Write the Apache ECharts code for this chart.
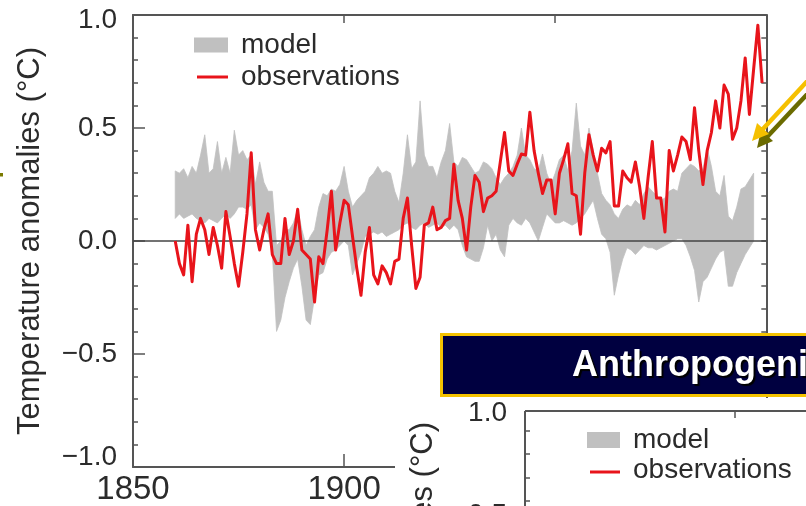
<!DOCTYPE html>
<html>
<head>
<meta charset="utf-8">
<script src="https://cdn.jsdelivr.net/npm/echarts@6/dist/echarts.min.js"></script>
<style>
html,body{margin:0;padding:0;background:#fff;overflow:hidden;}
#chart{width:806px;height:506px;}
</style>
</head>
<body>
<div id="chart"></div>
<script>
// ---------- data ----------
const obsStartYear = 1860;
const obsValues = [
  0.00,-0.10,-0.15,0.07,-0.18,0.03,0.10,0.05,-0.06,0.06,   // 1860-1869
  -0.02,-0.12,0.13,0.02,-0.10,-0.20,-0.05,0.12,0.39,0.05,  // 1870-1879
  -0.04,0.05,0.12,-0.06,-0.10,-0.10,0.10,-0.06,0.00,0.14,  // 1880-1889
  -0.04,-0.06,-0.08,-0.27,-0.07,-0.10,0.05,0.22,-0.04,0.08,// 1890-1899
  0.18,0.16,0.02,-0.12,-0.24,-0.05,0.06,-0.15,-0.19,-0.11, // 1900-1909
  -0.14,-0.19,-0.09,-0.08,0.10,0.19,-0.02,-0.21,-0.16,0.07,// 1910-1919
  0.08,0.15,0.05,0.06,0.09,0.10,0.34,0.18,0.10,-0.04,      // 1920-1929
  0.15,0.29,0.26,0.13,0.19,0.20,0.22,0.35,0.48,0.31,       // 1930-1939
  0.29,0.34,0.385,0.38,0.57,0.40,0.30,0.21,0.27,0.27,      // 1940-1949
  0.12,0.30,0.36,0.43,0.21,0.20,0.03,0.30,0.47,0.38,       // 1950-1959
  0.31,0.41,0.39,0.44,0.155,0.155,0.31,0.28,0.26,0.35,     // 1960-1969
  0.24,0.10,0.28,0.44,0.19,0.19,0.04,0.40,0.31,0.38,       // 1970-1979
  0.46,0.44,0.36,0.59,0.40,0.25,0.40,0.48,0.62,0.50,       // 1980-1989
  0.69,0.65,0.45,0.50,0.62,0.81,0.56,0.76,0.955,0.70       // 1990-1999
];
const modelStartYear = 1860;
const modelUpper = [
  0.31,0.30,0.32,0.28,0.33,0.30,0.38,0.47,0.30,0.32,
  0.44,0.30,0.37,0.30,0.49,0.38,0.40,0.36,0.38,0.25,
  0.35,0.26,0.22,0.22,-0.02,0.00,0.05,0.05,0.08,0.14,
  0.05,-0.02,0.02,0.05,0.15,0.21,0.20,0.23,0.22,0.25,
  0.33,0.22,0.15,0.18,0.20,0.22,0.28,0.30,0.33,0.30,
  0.31,0.30,0.22,0.17,0.30,0.47,0.32,0.35,0.62,0.38,
  0.33,0.33,0.28,0.35,0.40,0.52,0.35,0.33,0.37,0.36,
  0.33,0.30,0.31,0.35,0.34,0.32,0.28,0.25,0.28,0.30,
  0.33,0.38,0.50,0.38,0.36,0.32,0.31,0.385,0.30,0.25,
  0.30,0.36,0.38,0.31,0.40,0.61,0.42,0.38,0.50,0.40,
  0.30,0.21,0.18,0.16,0.12,0.10,0.14,0.16,0.15,0.18,
  0.16,0.21,0.24,0.22,0.20,0.18,0.19,0.22,0.23,0.22,
  0.30,0.32,0.34,0.33,0.31,0.32,0.41,0.33,0.22,0.20,
  0.29,0.11,0.09,0.15,0.23,0.24,0.27,0.30
];
const modelLower = [
  0.10,0.12,0.10,0.11,0.12,0.10,0.09,0.08,0.10,0.09,
  0.08,0.10,0.12,0.10,0.12,0.15,0.15,0.14,0.16,0.05,
  0.08,0.06,0.03,-0.05,-0.40,-0.35,-0.25,-0.18,-0.12,-0.08,
  -0.20,-0.35,-0.37,-0.25,-0.15,-0.14,-0.08,-0.05,-0.04,-0.02,
  0.00,-0.02,-0.15,-0.10,-0.05,0.02,0.03,0.04,0.03,0.04,
  0.02,0.03,0.04,0.05,0.07,0.08,0.06,0.05,0.07,0.08,
  0.06,0.07,0.08,0.06,0.07,0.05,0.07,0.05,-0.02,-0.07,
  -0.08,-0.09,-0.09,-0.03,0.07,0.00,0.03,-0.04,-0.07,0.07,
  0.10,0.08,0.07,0.10,0.08,0.04,0.00,0.06,0.12,0.10,
  0.08,0.08,0.09,0.08,0.07,0.08,0.10,0.12,0.15,0.18,
  0.10,0.03,0.01,-0.05,-0.24,-0.15,-0.08,-0.03,-0.04,-0.06,
  -0.04,-0.02,-0.03,-0.03,-0.04,-0.03,-0.02,-0.01,0.00,0.01,
  0.01,-0.02,-0.07,-0.13,-0.27,-0.18,-0.16,-0.12,-0.08,-0.05,
  -0.04,-0.20,-0.20,-0.14,-0.10,-0.06,-0.03,0.00
];
const xTickValues = [1850, 1900, 1950, 2000];
const xTickLabels = ['1850', '1900', '1950', '2000'];
const yTickValues = [-1.0, -0.5, 0.0, 0.5, 1.0];
const yTickLabels = ['\u22121.0', '\u22120.5', '0.0', '0.5', '1.0'];
const legendNames = ['model', 'observations'];
const yTitle = 'Temperature anomalies (\u00B0C)';
const bannerText = 'Anthropogenic';

// ---------- build ----------
const obsData = obsValues.map((v, i) => [obsStartYear + i, v]);
const modelYears = modelUpper.map((_, i) => modelStartYear + i);

const FONT = "'Liberation Sans', Arial, Helvetica, sans-serif";
const AX = '#555555';
const RED = '#e8141b';
const GREY = '#c0c0c0';
const TXT = '#2b2b2b';

function lbl(values, labels) {
  return function (v) {
    for (let i = 0; i < values.length; i++) if (Math.abs(values[i] - v) < 1e-6) return labels[i];
    return '';
  };
}
function yLbl(v) {
  const t = lbl(yTickValues, yTickLabels)(v);
  if (Math.abs(v - 1) < 1e-6) return '{top|' + t + '}';
  if (Math.abs(v + 1) < 1e-6) return '{bot|' + t + '}';
  return '{mid|' + t + '}';
}

const chart = echarts.init(document.getElementById('chart'), null, {renderer: 'canvas', width: 806, height: 506});

const axisLineStyle = {show: true, onZero: false, lineStyle: {color: AX, width: 2}};
const yRichBase = {fontSize: 28, color: TXT, fontFamily: FONT};

const option = {
  animation: false,
  backgroundColor: '#ffffff',
  grid: {left: 133, top: 15, width: 637, height: 452, containLabel: false},
  legend: [
    {
      data: [{name: legendNames[0], icon: 'rect'}],
      left: 194, top: 30, padding: 0, itemWidth: 34, itemHeight: 15,
      textStyle: {fontSize: 28, fontFamily: FONT, color: TXT, lineHeight: 30, padding: [0, 0, 0, 8]},
      selectedMode: false
    },
    {
      data: [{name: legendNames[1], icon: 'rect'}],
      left: 197, top: 62, padding: 0, itemWidth: 31, itemHeight: 3,
      textStyle: {fontSize: 28, fontFamily: FONT, color: TXT, lineHeight: 30, padding: [0, 0, 0, 8]},
      selectedMode: false
    }
  ],
  xAxis: [
    {
      type: 'value', position: 'bottom', min: 1850, max: 2000, interval: 50,
      axisLine: axisLineStyle,
      axisTick: {show: true, inside: true, length: 13, lineStyle: {color: AX, width: 1.5}},
      axisLabel: {show: true, margin: 6, fontSize: 33, color: TXT, fontFamily: FONT,
        formatter: lbl(xTickValues, xTickLabels)},
      splitLine: {show: false}
    },
    {
      type: 'value', position: 'top', min: 1850, max: 2000, interval: 50,
      axisLine: axisLineStyle,
      axisTick: {show: true, inside: true, length: 8, lineStyle: {color: AX, width: 1.5}},
      axisLabel: {show: false}, splitLine: {show: false}
    }
  ],
  yAxis: [
    {
      type: 'value', position: 'left', min: -1, max: 1, interval: 0.5,
      name: yTitle, nameLocation: 'middle', nameRotate: 90, nameGap: 87,
      nameTextStyle: {fontSize: 31, fontFamily: FONT, color: TXT},
      axisLine: axisLineStyle,
      axisTick: {show: true, inside: true, length: 12, lineStyle: {color: AX, width: 1.5}},
      minorTick: {show: true, splitNumber: 5, length: 5, lineStyle: {color: AX, width: 1.5}},
      axisLabel: {show: true, margin: 16, fontSize: 28, color: TXT, fontFamily: FONT,
        formatter: yLbl,
        rich: {
          top: Object.assign({padding: [10, 0, 0, 0]}, yRichBase),
          mid: Object.assign({}, yRichBase),
          bot: Object.assign({padding: [0, 0, 20, 0]}, yRichBase)
        }},
      splitLine: {show: false}
    },
    {
      type: 'value', position: 'right', min: -1, max: 1, interval: 0.5,
      axisLine: axisLineStyle,
      axisTick: {show: true, inside: true, length: 5, lineStyle: {color: AX, width: 1.5}},
      minorTick: {show: true, splitNumber: 5, length: 5, lineStyle: {color: AX, width: 1.5}},
      axisLabel: {show: false}, splitLine: {show: false}
    }
  ],
  series: [
    {
      type: 'custom', name: legendNames[0], xAxisIndex: 0, yAxisIndex: 0,
      itemStyle: {color: GREY}, z: 1, silent: true,
      data: [[modelStartYear, modelUpper[0]]],
      renderItem: function (params, api) {
        const pts = [];
        for (let i = 0; i < modelYears.length; i++) pts.push(api.coord([modelYears[i], modelUpper[i]]));
        for (let i = modelYears.length - 1; i >= 0; i--) pts.push(api.coord([modelYears[i], modelLower[i]]));
        return {type: 'polygon', shape: {points: pts}, style: {fill: GREY, stroke: GREY, lineWidth: 0.8}};
      }
    },
    {
      type: 'line', name: legendNames[1], xAxisIndex: 0, yAxisIndex: 0,
      data: obsData, showSymbol: false, symbol: 'none', z: 3, silent: true,
      itemStyle: {color: RED},
      lineStyle: {color: RED, width: 3, join: 'round'},
      markLine: {
        silent: true, symbol: 'none', z: 2,
        label: {show: false},
        lineStyle: {color: '#444444', width: 1.6, type: 'solid'},
        data: [{yAxis: 0}]
      }
    }
  ],
  graphic: [
    // cover of the lower slide area (second figure)
    {type: 'rect', z: 100, shape: {x: 395, y: 398, width: 420, height: 120}, style: {fill: '#ffffff'}},
    // second figure frame and ticks
    {type: 'line', z: 101, shape: {x1: 525, y1: 411, x2: 810, y2: 411}, style: {stroke: AX, lineWidth: 2}},
    {type: 'line', z: 101, shape: {x1: 525, y1: 411, x2: 525, y2: 510}, style: {stroke: AX, lineWidth: 2}},
    {type: 'line', z: 101, shape: {x1: 735, y1: 411, x2: 735, y2: 418}, style: {stroke: AX, lineWidth: 1.5}},
    {type: 'line', z: 101, shape: {x1: 525, y1: 431, x2: 530, y2: 431}, style: {stroke: AX, lineWidth: 1.5}},
    {type: 'line', z: 101, shape: {x1: 525, y1: 454, x2: 530, y2: 454}, style: {stroke: AX, lineWidth: 1.5}},
    {type: 'line', z: 101, shape: {x1: 525, y1: 478, x2: 530, y2: 478}, style: {stroke: AX, lineWidth: 1.5}},
    {type: 'line', z: 101, shape: {x1: 525, y1: 501, x2: 530, y2: 501}, style: {stroke: AX, lineWidth: 1.5}},
    {type: 'text', z: 101, x: 507, y: 413, style: {text: yTickLabels[4], font: '28px ' + FONT, fill: TXT, textAlign: 'right', textVerticalAlign: 'middle'}},
    {type: 'text', z: 101, x: 507, y: 515, style: {text: yTickLabels[3], font: '28px ' + FONT, fill: TXT, textAlign: 'right', textVerticalAlign: 'middle'}},
    {type: 'text', z: 101, x: 423, y: 422, rotation: Math.PI / 2, style: {text: yTitle, font: '31px ' + FONT, fill: TXT, textAlign: 'right', textVerticalAlign: 'middle'}},
    {type: 'rect', z: 101, shape: {x: 587, y: 432, width: 33, height: 16}, style: {fill: GREY}},
    {type: 'text', z: 101, x: 633, y: 440, style: {text: legendNames[0], font: '28px ' + FONT, fill: TXT, textVerticalAlign: 'middle'}},
    {type: 'line', z: 101, shape: {x1: 590, y1: 472, x2: 620, y2: 472}, style: {stroke: RED, lineWidth: 3}},
    {type: 'text', z: 101, x: 633, y: 470, style: {text: legendNames[1], font: '28px ' + FONT, fill: TXT, textVerticalAlign: 'middle'}},
    // banner
    {type: 'rect', z: 110, shape: {x: 441.5, y: 334.5, width: 420, height: 61}, style: {fill: '#000040', stroke: '#f5c300', lineWidth: 3}},
    {type: 'text', z: 111, x: 572, y: 366, style: {text: bannerText, font: 'bold 36px ' + FONT, fill: '#ffffff', textVerticalAlign: 'middle', textShadowColor: '#000000', textShadowOffsetX: 2, textShadowOffsetY: 2, textShadowBlur: 1}},
    // arrow (shadow then yellow)
    {type: 'line', z: 120, shape: {x1: 815, y1: 86, x2: 767, y2: 137}, style: {stroke: '#6b6b00', lineWidth: 4.5}},
    {type: 'polygon', z: 120, shape: {points: [[757, 148], [773, 141], [761, 130]]}, style: {fill: '#6b6b00'}},
    {type: 'line', z: 121, shape: {x1: 812, y1: 76, x2: 762, y2: 130}, style: {stroke: '#f5c000', lineWidth: 4.5}},
    {type: 'polygon', z: 121, shape: {points: [[752, 141], [769, 134], [757, 123]]}, style: {fill: '#f5c000'}},
    // small mark at left edge
    {type: 'rect', z: 120, shape: {x: 0, y: 173, width: 3, height: 3.5}, style: {fill: '#7a7a00'}}
  ]
};
chart.setOption(option);
</script>
</body>
</html>
